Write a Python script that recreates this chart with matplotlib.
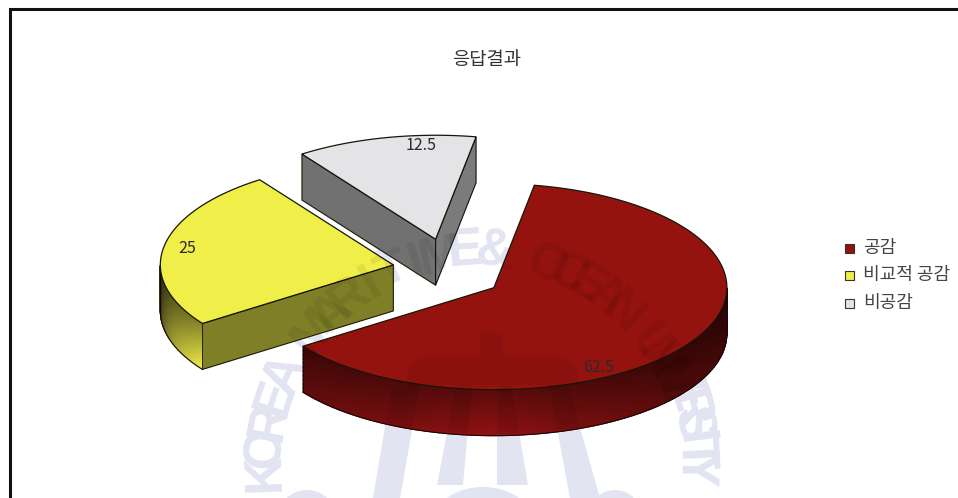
import numpy as np
import matplotlib
matplotlib.use('Agg')
import matplotlib.pyplot as plt
from matplotlib.colors import LinearSegmentedColormap
from matplotlib.font_manager import FontProperties
from matplotlib.patches import Polygon, Ellipse, Rectangle, PathPatch
from matplotlib.path import Path
from matplotlib.text import TextPath
from matplotlib.transforms import Affine2D

plt.rcParams['font.family'] = ['Noto Sans CJK KR', 'DejaVu Sans']

title = '응답결과'
categories = ['공감', '비교적 공감', '비공감']
values = [62.5, 25, 12.5]
value_labels = ['62.5', '25', '12.5']

# pie geometry, in pixels of the figure
start_angle = 10
center = (447.5, 270.5)
rx, ry_front, ry_back = 233, 102, 104
explode_x, explode_y = 55, 32
depth = 46

top_colors = ['#95130f', '#f0ee48', '#e4e4e6']
rim_colors = ['#a01414', '#f4f24c', '#8a8a8a']
cut_colors = [None, '#7f7f28', '#717171']
end_colors = [None, None, '#7b7b7b']
label_angles = [150, 280, 356]
label_radius = 0.9

# angle -> brightness along the visible outer wall of each slice
rim_angles = [[90, 130, 180, 235], [235, 250, 270], None]
rim_light = [[0.35, 0.55, 0.92, 0.6], [1.0, 0.7, 0.22], None]
rim_top_shade = [0.62, 0.55, 1.0]

wm_text = 'KOREA MARITIME & OCEAN UNIVERSITY'
wm_index = [0, 13, 15, 16, 23, 32]
wm_phi = [-92, -4, 4, 13, 55, 91]
wm_x, wm_y, wm_r = 480, 465, 215
wm_size = 38
wm_family = ['Liberation Sans Narrow', 'Liberation Sans']


def ring(angles, cx, cy):
    t = np.radians(angles)
    c = np.cos(t)
    return np.column_stack([cx + rx * np.sin(t), cy - np.where(c > 0, ry_back, ry_front) * c])


def seal_letters():
    phi = np.interp(np.arange(len(wm_text)), wm_index, wm_phi)
    for ch, p in zip(wm_text, phi):
        t = np.radians(p)
        yield ch, p, wm_x + wm_r * np.sin(t), wm_y - wm_r * np.cos(t)


def seal_shapes(color, alpha, zorder):
    # cross, dome, columns and arches of the university seal
    seal = [
        [(480, 333), (503, 333), (503, 357), (480, 357)],
        [(407, 385), (407, 372), (415, 361), (426, 357), (560, 357), (572, 362), (578, 372), (578, 385)],
        [(392, 385), (420, 385), (400, 498), (373, 498)],
        [(456, 385), (472, 385), (463, 485), (437, 485)],
        [(497, 385), (511, 385), (528, 485), (497, 485)],
        [(549, 385), (568, 385), (600, 498), (570, 498)],
    ]
    items = [ax.add_patch(Polygon(pts, fc=color, ec='none', alpha=alpha, zorder=zorder)) for pts in seal]
    for x, y, w, h in [(307, 520, 60, 60), (483, 515, 90, 56), (615, 520, 56, 60)]:
        items.append(ax.add_patch(Ellipse((x, y), w, h, fc=color, ec='none', alpha=alpha, zorder=zorder)))
    return items


fig = plt.figure(figsize=(9.58, 4.98), dpi=100)
ax = fig.add_axes([0, 0, 1, 1])
ax.set_xlim(0, 958)
ax.set_ylim(498, 0)
ax.axis('off')

# seal on the page, under the pie
seal_color = '#e2e4f2'
seal_shapes(seal_color, 1, 0.5)
for ch, p, x, y in seal_letters():
    ax.text(x, y, ch, ha='center', va='center', rotation=-p, rotation_mode='anchor',
            fontsize=wm_size, fontweight='bold', family=wm_family, color=seal_color, zorder=0.5)

# left and top frame lines
ax.plot([10, 10, 958], [498, 9, 9], color='#111111', lw=2.2, solid_joinstyle='miter', zorder=1)

ax.text(487, 59, title, ha='center', va='center', fontsize=13.5, color='#333333', zorder=2)

# slice start angles from the values
sweeps = [v * 3.6 for v in values]
starts = [start_angle + sum(sweeps[:i]) for i in range(len(values))]

# back to front: grey, yellow, red
z = 3
outlines = []
for i in [2, 1, 0]:
    a0, a1 = starts[i], starts[i] + sweeps[i]
    mid = np.radians((a0 + a1) / 2)
    cx = center[0] + explode_x * np.sin(mid)
    cy = center[1] - explode_y * np.cos(mid)
    edge = ring(np.linspace(a0, a1, 200), cx, cy)
    apex = np.array([cx, cy])
    top = np.vstack([apex, edge])
    for d in range(0, depth + 1, 4):
        outlines.append(Path(np.vstack([top + [0, d], top[:1] + [0, d]]), closed=True))

    # cut faces that turn towards the viewer
    if cut_colors[i]:
        p = edge[0]
        face = [p, apex, apex + [0, depth], p + [0, depth]]
        ax.add_patch(Polygon(face, fc=cut_colors[i], ec='#1a1a00', lw=0.8, zorder=z))
    if end_colors[i]:
        p = edge[-1]
        face = [p, apex, apex + [0, depth], p + [0, depth]]
        ax.add_patch(Polygon(face, fc=end_colors[i], ec='#111111', lw=0.8, zorder=z))

    # curved outer wall
    if rim_angles[i]:
        th = np.linspace(rim_angles[i][0], rim_angles[i][-1], 120)
        lit = np.interp(th, rim_angles[i], rim_light[i])
        base = ring(th, cx, cy)
        h = np.linspace(0, depth, 12)
        X = np.outer(base[:, 0], np.ones_like(h))
        Y = np.outer(base[:, 1], np.ones_like(h)) + np.outer(np.ones_like(th), h)
        shade = np.outer(lit, rim_top_shade[i] + (1 - rim_top_shade[i]) * h / depth)
        cmap = LinearSegmentedColormap.from_list('rim', ['#000000', rim_colors[i]])
        ax.pcolormesh(X, Y, shade, cmap=cmap, vmin=0, vmax=1, shading='gouraud', zorder=z)
        ax.plot(base[:, 0], base[:, 1] + depth, color='#1a0505', lw=0.8, zorder=z)
        ax.plot([base[0, 0]] * 2, [base[0, 1], base[0, 1] + depth], color='#1a0505', lw=0.6, zorder=z)
        ax.plot([base[-1, 0]] * 2, [base[-1, 1], base[-1, 1] + depth], color='#1a0505', lw=0.8, zorder=z)

    # top surface
    ax.add_patch(Polygon(top, fc=top_colors[i], ec='#161606', lw=0.9,
                         joinstyle='miter', zorder=z + 0.5))

    lab = ring([label_angles[i]], 0, 0)[0] * label_radius + apex
    ax.text(lab[0], lab[1], value_labels[i], ha='center', va='center', fontsize=11.5,
            color='#2a2a2a', zorder=z + 0.6)
    z += 1

# faint darkening of the seal where it crosses the pie
clip = Path.make_compound_path(*outlines)
shadow = seal_shapes('#000000', 0.07, 20)
prop = FontProperties(family=wm_family, weight='bold')
for ch, p, x, y in seal_letters():
    if ch == ' ':
        continue
    tp = TextPath((0, 0), ch, size=wm_size * 100 / 72, prop=prop)
    box = tp.get_extents()
    tr = Affine2D().translate(-(box.x0 + box.x1) / 2, -(box.y0 + box.y1) / 2).scale(1, -1)
    tr = tr.rotate_deg(p).translate(x, y)
    shadow.append(ax.add_patch(PathPatch(tp, fc='#000000', ec='none', alpha=0.07, zorder=20,
                                         transform=tr + ax.transData)))
for item in shadow:
    item.set_clip_path(clip, ax.transData)

# legend
legend_y = [248, 275, 303]
for name, col, y in zip(categories, top_colors, legend_y):
    ax.add_patch(Rectangle((845, y - 4.5), 9, 9, fc=col, ec='#333333', lw=0.8, zorder=2))
    ax.text(863, y, name, ha='left', va='center', fontsize=13, color='#444444', zorder=2)

fig.savefig('out.png', dpi=100)
